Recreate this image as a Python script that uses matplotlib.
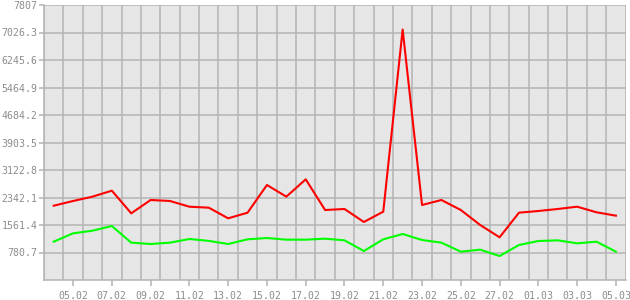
import numpy as np
import matplotlib
matplotlib.use("Agg")
import matplotlib.pyplot as plt

days = ["04.02", "05.02", "06.02", "07.02", "08.02", "09.02", "10.02", "11.02",
        "12.02", "13.02", "14.02", "15.02", "16.02", "17.02", "18.02", "19.02",
        "20.02", "21.02", "22.02", "23.02", "24.02", "25.02", "26.02", "27.02",
        "28.02", "01.03", "02.03", "03.03", "04.03", "05.03"]

red_vals = [2109, 2243, 2366, 2536, 1893, 2271, 2243, 2081, 2053, 1751,
            1911, 2697, 2366, 2858, 1987, 2016, 1647, 1940, 7110, 2129,
            2271, 1987, 1561, 1212, 1911, 1959, 2016, 2081, 1922, 1826]

green_vals = [1088, 1325, 1400, 1533, 1060, 1022, 1060, 1164, 1110, 1022,
              1155, 1192, 1145, 1145, 1173, 1126, 823, 1155, 1306, 1136,
              1060, 804, 861, 681, 994, 1107, 1126, 1041, 1088, 804]

y_max = 7807
y_ticks = [round(y_max * k / 10, 1) for k in range(1, 11)]
y_labels = ["%g" % v for v in y_ticks]

grid_col = "#b4b4b4"
txt_col = "#8c8c8c"

fig = plt.figure(figsize=(6.3, 3.0), dpi=100)
ax = fig.add_axes([44 / 630, 20 / 300, (625.6 - 44) / 630, 275 / 300])
ax.set_facecolor("#e6e6e6")

x = np.arange(len(days))
ax.plot(x, red_vals, color="#ff0000", lw=1.5, zorder=3)
ax.plot(x, green_vals, color="#00ff00", lw=1.5, zorder=3)

ax.set_xlim(-0.5, len(days) - 0.5)
ax.set_ylim(0, y_max)

major = x[1::2]
ax.set_xticks(major)
ax.set_xticklabels([days[i] for i in major])
ax.set_xticks(np.arange(len(days) + 1) - 0.5, minor=True)
ax.set_yticks(y_ticks)
ax.set_yticklabels(y_labels)

ax.grid(which="minor", axis="x", color=grid_col, lw=1.1)
ax.grid(which="major", axis="y", color=grid_col, lw=1.1)
ax.set_axisbelow(True)

ax.tick_params(axis="x", which="major", length=4, width=1.1, color=grid_col,
               labelcolor=txt_col, labelsize=7.1, pad=4)
ax.tick_params(axis="x", which="minor", length=0)
ax.tick_params(axis="y", length=3.5, width=1.1, color=grid_col,
               labelcolor=txt_col, labelsize=7.1, pad=1)
for lab in ax.get_xticklabels() + ax.get_yticklabels():
    lab.set_family("DejaVu Sans Mono")

for side in ["left", "bottom"]:
    ax.spines[side].set_color(grid_col)
    ax.spines[side].set_linewidth(1.1)
for side in ["top", "right"]:
    ax.spines[side].set_visible(False)

fig.savefig("out.png", dpi=100, facecolor="white")
